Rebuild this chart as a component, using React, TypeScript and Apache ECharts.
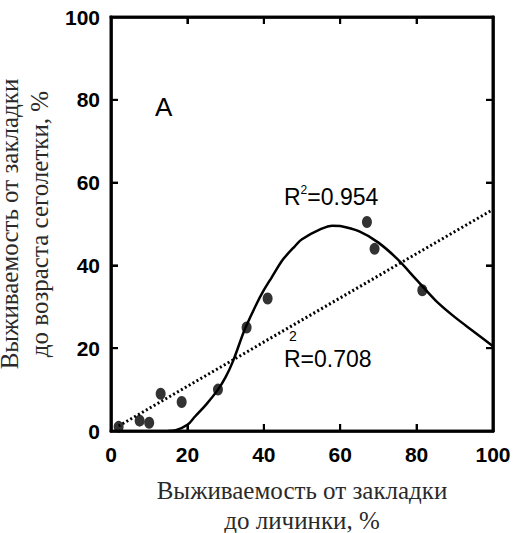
import React, { useEffect, useRef } from 'react';
import * as echarts from 'echarts';

const axisTicks = [0, 20, 40, 60, 80, 100];
const innerTicks = [20, 40, 60, 80];
const axisMin = 0;
const axisMax = 100;
const pointsX = [2, 7.5, 10, 13, 18.5, 28, 35.5, 41, 67, 69, 81.5];
const pointsY = [1, 2.5, 2, 9, 7, 10, 25, 32, 50.5, 44, 34];
const outlierX = [50];
const outlierY = [6.5];
const curveX = [15, 17, 20, 22, 25, 28, 30, 32, 35, 38, 40, 42, 45, 48, 50, 55, 58, 60, 65, 70, 75, 80, 85, 90, 95, 100];
const curveY = [0, 0.2, 1.5, 3.5, 6.5, 10, 13, 17, 24.5, 30.5, 34, 37, 41.4, 44.5, 46.3, 48.8, 49.6, 49.5, 48.2, 45.5, 41.5, 36.5, 31.5, 27.5, 24, 20.5];
const linearX = [2, 100];
const linearY = [1.2, 53.5];

const xTitle = 'Выживаемость от закладки\nдо личинки, %';
const yTitle = 'Выживаемость от закладки\nдо возраста сеголетки, %';
const panelLabel = 'A';
const r2Curve = '0.954';
const r2Linear = '0.708';

const SANS = '"Liberation Sans Narrow", "Liberation Sans", Arial, sans-serif';
const SERIF = '"Liberation Serif", "Times New Roman", serif';

const mkLine = () => ({ show: true, onZero: false, lineStyle: { color: '#000', width: 2.5 } });
const mkTick = () => ({ show: true, inside: true, length: 7, lineStyle: { color: '#000', width: 2 } });
const mkLabel = (margin: number) => ({
  show: true,
  margin,
  color: '#000',
  fontFamily: SANS,
  fontWeight: 'bold' as const,
  fontSize: 21,
  formatter: (v: number) => (axisTicks.includes(v) ? String(v) : ''),
});

// Frame and inward ticks drawn as filled rectangles from the axis scale.
const renderFrame = (params: any, api: any) => {
  const p0 = api.coord([axisMin, axisMin]);
  const p1 = api.coord([axisMax, axisMax]);
  const w = 2.6;
  const tl = 7;
  const tw = 2;
  const black = { fill: '#000' };
  const children: any[] = [
    { type: 'rect', shape: { x: p0[0] - w / 2, y: p1[1] - w / 2, width: w, height: p0[1] - p1[1] + w }, style: black },
    { type: 'rect', shape: { x: p1[0] - w / 2, y: p1[1] - w / 2, width: w, height: p0[1] - p1[1] + w }, style: black },
    { type: 'rect', shape: { x: p0[0] - w / 2, y: p1[1] - w / 2, width: p1[0] - p0[0] + w, height: w }, style: black },
    { type: 'rect', shape: { x: p0[0] - w / 2, y: p0[1] - w / 2, width: p1[0] - p0[0] + w, height: w }, style: black },
  ];
  innerTicks.forEach((t) => {
    const x = api.coord([t, axisMin])[0];
    const y = api.coord([axisMin, t])[1];
    children.push({ type: 'rect', shape: { x: x - tw / 2, y: p0[1] - tl, width: tw, height: tl }, style: black });
    children.push({ type: 'rect', shape: { x: x - tw / 2, y: p1[1], width: tw, height: tl }, style: black });
    children.push({ type: 'rect', shape: { x: p0[0], y: y - tw / 2, width: tl, height: tw }, style: black });
    children.push({ type: 'rect', shape: { x: p1[0] - tl, y: y - tw / 2, width: tl, height: tw }, style: black });
  });
  return { type: 'group', children };
};

export default function App() {
  const ref = useRef<HTMLDivElement>(null);
  useEffect(() => {
    if (!ref.current) return;
    const chart = echarts.init(ref.current, null, { renderer: 'svg' });
    const annoStyle = { color: '#000', fontFamily: SANS, fontWeight: 'normal' as const };
    chart.setOption({
      animation: false,
      backgroundColor: '#fff',
      title: [
        { text: panelLabel, left: 155, top: 94, padding: 0, textStyle: { ...annoStyle, fontSize: 26 } },
        {
          text: '{r|R}{s|2}{r|=' + r2Curve + '}', left: 284, top: 184, padding: 0,
          textStyle: {
            ...annoStyle,
            rich: {
              r: { ...annoStyle, fontSize: 23, lineHeight: 24, verticalAlign: 'bottom' },
              s: { ...annoStyle, fontSize: 12, lineHeight: 24, verticalAlign: 'top', padding: [0, 0, 8, 0] },
            },
          },
        },
        { text: '2', left: 289, top: 329, padding: 0, textStyle: { ...annoStyle, fontSize: 14 } },
        { text: 'R=' + r2Linear, left: 284, top: 347, padding: 0, textStyle: { ...annoStyle, fontSize: 23 } },
      ],
      grid: {
        left: 111, right: 20, top: 17, bottom: 102, containLabel: false, outerBoundsMode: 'none',
        show: true, borderColor: '#000', borderWidth: 2.5, backgroundColor: 'transparent',
      },
      xAxis: [
        {
          type: 'value', min: axisMin, max: axisMax, interval: 20, position: 'bottom',
          axisLine: mkLine(), axisTick: mkTick(), splitLine: { show: false }, axisLabel: mkLabel(13),
          name: xTitle, nameLocation: 'middle', nameGap: 44,
          nameTextStyle: { fontFamily: SERIF, fontSize: 25, color: '#2a2a2a', lineHeight: 30 },
        },
        { type: 'value', min: axisMin, max: axisMax, interval: 20, position: 'top', axisLine: mkLine(), axisTick: mkTick(), splitLine: { show: false }, axisLabel: { show: false } },
      ],
      yAxis: [
        {
          type: 'value', min: axisMin, max: axisMax, interval: 20, position: 'left',
          axisLine: mkLine(), axisTick: mkTick(), splitLine: { show: false }, axisLabel: mkLabel(11),
          name: yTitle, nameLocation: 'middle', nameGap: 42, nameRotate: 90,
          nameTextStyle: { fontFamily: SERIF, fontSize: 25, color: '#2a2a2a', lineHeight: 30 },
        },
        { type: 'value', min: axisMin, max: axisMax, interval: 20, position: 'right', axisLine: mkLine(), axisTick: mkTick(), splitLine: { show: false }, axisLabel: { show: false } },
      ],
      series: [
        { type: 'custom', name: 'frame', data: [[axisMin, axisMin]], renderItem: renderFrame, silent: true, clip: false, z: 1 },
        { type: 'line', name: 'linear', data: linearX.map((x, i) => [x, linearY[i]]), symbol: 'none', lineStyle: { color: '#000', width: 3, type: [2, 2.5] }, z: 2 },
        { type: 'line', name: 'curve', data: curveX.map((x, i) => [x, curveY[i]]), symbol: 'none', smooth: 0.3, lineStyle: { color: '#000', width: 2.5 }, z: 2 },
        { type: 'scatter', name: 'points', data: pointsX.map((x, i) => [x, pointsY[i]]), symbol: 'circle', symbolSize: [10, 12], itemStyle: { color: '#000' }, z: 3 },
        { type: 'scatter', name: 'outlier', data: outlierX.map((x, i) => [x, outlierY[i]]), symbol: 'emptyCircle', symbolSize: 7, itemStyle: { color: '#fff', borderColor: '#000', borderWidth: 2 }, z: 3 },
      ],
    });
    return () => chart.dispose();
  }, []);
  return <div ref={ref} style={{ position: 'absolute', left: 0, top: 0, width: 513, height: 533 }} />;
}
